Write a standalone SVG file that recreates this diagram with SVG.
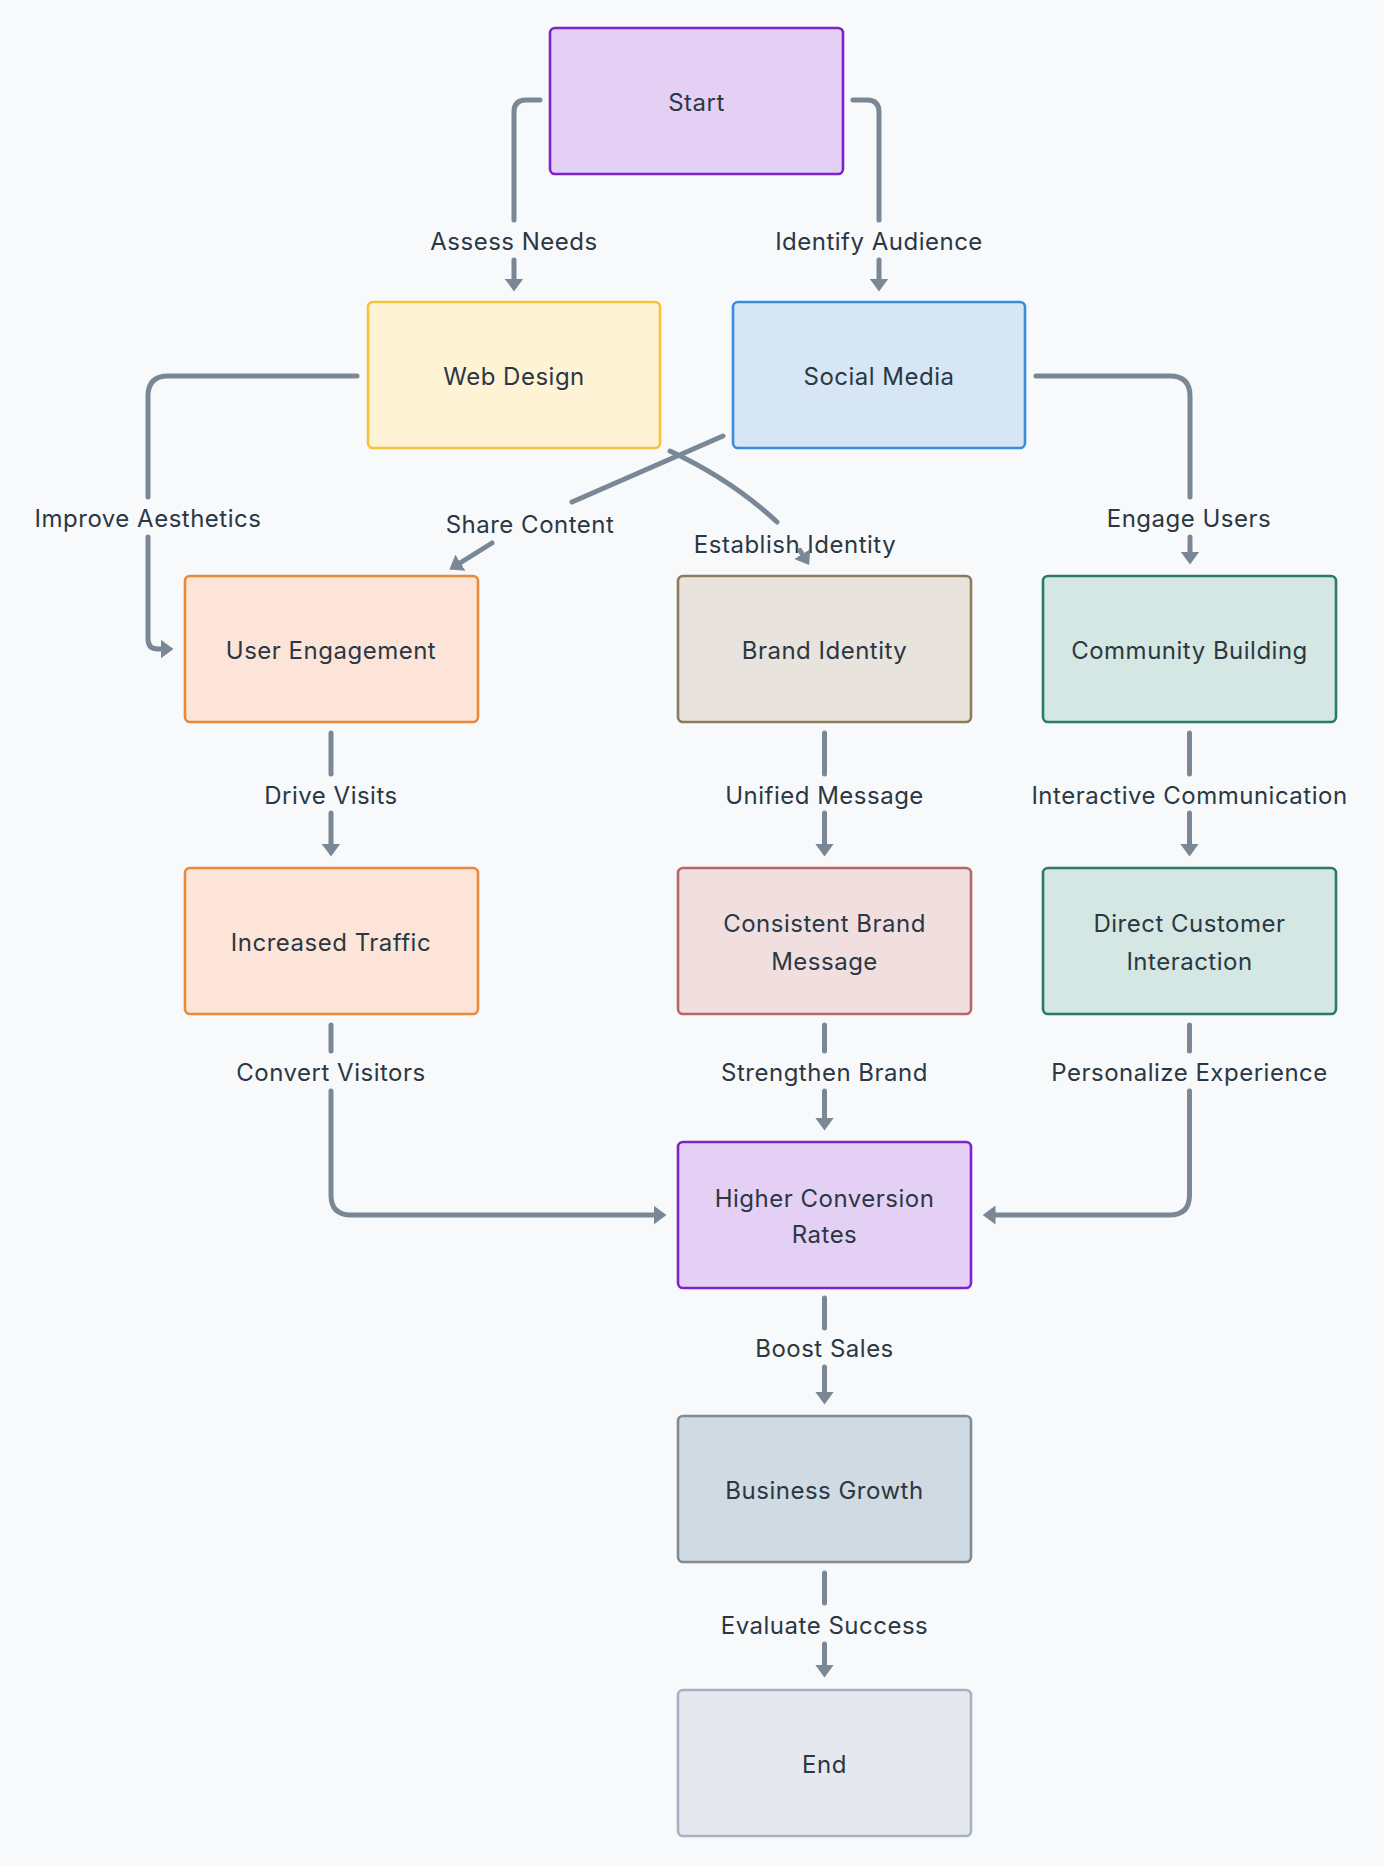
<svg xmlns="http://www.w3.org/2000/svg" width="1384" height="1866" viewBox="0 0 1384 1866">
<style>
.node rect{stroke-width:2.6}
.nt{font-family:Inter,"Liberation Sans",sans-serif;font-size:24px;letter-spacing:0.5px;fill:#2B3743;text-anchor:middle;dominant-baseline:central}
.lbl{font-family:Inter,"Liberation Sans",sans-serif;font-size:24px;letter-spacing:0.5px;fill:#2B3743;text-anchor:middle;dominant-baseline:central}
.c{fill:none;stroke:#7A8896;stroke-width:5;stroke-linecap:round;stroke-linejoin:round}
.ca{fill:none;stroke:#7A8896;stroke-width:5;stroke-linecap:round;marker-end:url(#ah)}
</style>
<defs>
<marker id="ah" viewBox="0 0 13 19" refX="0.5" refY="9.5" markerWidth="13" markerHeight="19" markerUnits="userSpaceOnUse" orient="auto">
<path d="M0,0 L13,9.5 L0,19 Z" fill="#7A8896"/>
</marker>
</defs>
<rect width="1384" height="1866" fill="#F7F9FB"/>

<g id="connectors">
<!-- Start -> Web Design -->
<path class="c" d="M540,100 H526 Q514,100 514,112 V220"/>
<path class="ca" d="M514,260 V279"/>
<text class="lbl" x="514" y="241">Assess Needs</text>
<!-- Start -> Social Media -->
<path class="c" d="M853,100 H867 Q879,100 879,112 V220"/>
<path class="ca" d="M879,260 V279"/>
<text class="lbl" x="879" y="241">Identify Audience</text>
<!-- Web Design -> User Engagement -->
<path class="c" d="M357,376 H168 Q148,376 148,396 V497"/>
<path class="ca" d="M148,537 V639 Q148,649 158,649 H161"/>
<text class="lbl" x="148" y="518">Improve Aesthetics</text>
<!-- Social Media -> User Engagement -->
<path class="c" d="M723,436 L572,502"/>
<path class="ca" d="M492,543 L460,563"/>
<text class="lbl" x="530" y="524">Share Content</text>
<!-- Social Media -> Brand Identity -->
<path class="c" d="M670,451 Q732,480 777,522"/>
<text class="lbl" x="795" y="544">Establish Identity</text>
<path class="ca" d="M800,550.5 L802.5,554.5"/>
<!-- Social Media -> Community Building -->
<path class="c" d="M1036,376 H1170 Q1190,376 1190,396 V497"/>
<path class="ca" d="M1190,537 V552"/>
<text class="lbl" x="1189" y="518">Engage Users</text>
<!-- User Engagement -> Increased Traffic -->
<path class="c" d="M331,733 V774"/>
<path class="ca" d="M331,813 V844"/>
<text class="lbl" x="331" y="795">Drive Visits</text>
<!-- Brand Identity -> Consistent Brand Message -->
<path class="c" d="M824.5,733 V774"/>
<path class="ca" d="M824.5,813 V844"/>
<text class="lbl" x="824.5" y="795">Unified Message</text>
<!-- Community Building -> Direct Customer Interaction -->
<path class="c" d="M1189.5,733 V774"/>
<path class="ca" d="M1189.5,813 V844"/>
<text class="lbl" x="1189.5" y="795">Interactive Communication</text>
<!-- Increased Traffic -> Higher Conversion Rates -->
<path class="c" d="M331,1025 V1051"/>
<path class="ca" d="M331,1091 V1195 Q331,1215 351,1215 H654"/>
<text class="lbl" x="331" y="1072">Convert Visitors</text>
<!-- Consistent Brand Message -> Higher Conversion Rates -->
<path class="c" d="M824.5,1025 V1051"/>
<path class="ca" d="M824.5,1091 V1118"/>
<text class="lbl" x="824.5" y="1072">Strengthen Brand</text>
<!-- Direct Customer Interaction -> Higher Conversion Rates -->
<path class="c" d="M1189.5,1025 V1051"/>
<path class="ca" d="M1189.5,1091 V1195 Q1189.5,1215 1169.5,1215 H995"/>
<text class="lbl" x="1189.5" y="1072">Personalize Experience</text>
<!-- Higher Conversion Rates -> Business Growth -->
<path class="c" d="M824.5,1298 V1328"/>
<path class="ca" d="M824.5,1367 V1392"/>
<text class="lbl" x="824.5" y="1348">Boost Sales</text>
<!-- Business Growth -> End -->
<path class="c" d="M824.5,1573 V1603"/>
<path class="ca" d="M824.5,1644 V1665"/>
<text class="lbl" x="824.5" y="1625">Evaluate Success</text>
</g>

<g id="start" class="node">
<rect x="550" y="28" width="293" height="146" rx="5" fill="#E5D0F5" stroke="#7E22CE"/>
<text class="nt" x="696.5" y="102">Start</text>
</g>
<g id="web-design" class="node">
<rect x="368" y="302" width="292" height="146" rx="5" fill="#FFF3D6" stroke="#F5C33B"/>
<text class="nt" x="514" y="376">Web Design</text>
</g>
<g id="social-media" class="node">
<rect x="733" y="302" width="292" height="146" rx="5" fill="#D6E6F5" stroke="#3A8DDE"/>
<text class="nt" x="879" y="376">Social Media</text>
</g>
<g id="user-engagement" class="node">
<rect x="185" y="576" width="293" height="146" rx="5" fill="#FCE5D8" stroke="#E8893E"/>
<text class="nt" x="331" y="650">User Engagement</text>
</g>
<g id="brand-identity" class="node">
<rect x="678" y="576" width="293" height="146" rx="5" fill="#E8E3DC" stroke="#8C7B5C"/>
<text class="nt" x="824.5" y="650">Brand Identity</text>
</g>
<g id="community-building" class="node">
<rect x="1043" y="576" width="293" height="146" rx="5" fill="#D4E7E2" stroke="#2A7A68"/>
<text class="nt" x="1189.5" y="650">Community Building</text>
</g>
<g id="increased-traffic" class="node">
<rect x="185" y="868" width="293" height="146" rx="5" fill="#FCE5D8" stroke="#E8893E"/>
<text class="nt" x="331" y="942">Increased Traffic</text>
</g>
<g id="consistent-brand-message" class="node">
<rect x="678" y="868" width="293" height="146" rx="5" fill="#F1DFE0" stroke="#B5676A"/>
<text class="nt" x="824.5" y="923">Consistent Brand</text>
<text class="nt" x="824.5" y="961">Message</text>
</g>
<g id="direct-customer-interaction" class="node">
<rect x="1043" y="868" width="293" height="146" rx="5" fill="#D4E7E2" stroke="#2A7A68"/>
<text class="nt" x="1189.5" y="923">Direct Customer</text>
<text class="nt" x="1189.5" y="961">Interaction</text>
</g>
<g id="higher-conversion-rates" class="node">
<rect x="678" y="1142" width="293" height="146" rx="5" fill="#E5D0F5" stroke="#7E22CE"/>
<text class="nt" x="824.5" y="1198">Higher Conversion</text>
<text class="nt" x="824.5" y="1234">Rates</text>
</g>
<g id="business-growth" class="node">
<rect x="678" y="1416" width="293" height="146" rx="5" fill="#CFDAE2" stroke="#7F8C96"/>
<text class="nt" x="824.5" y="1490">Business Growth</text>
</g>
<g id="end" class="node">
<rect x="678" y="1690" width="293" height="146" rx="5" fill="#E5E9EF" stroke="#A6B4C2"/>
<text class="nt" x="824.5" y="1764">End</text>
</g>
</svg>
